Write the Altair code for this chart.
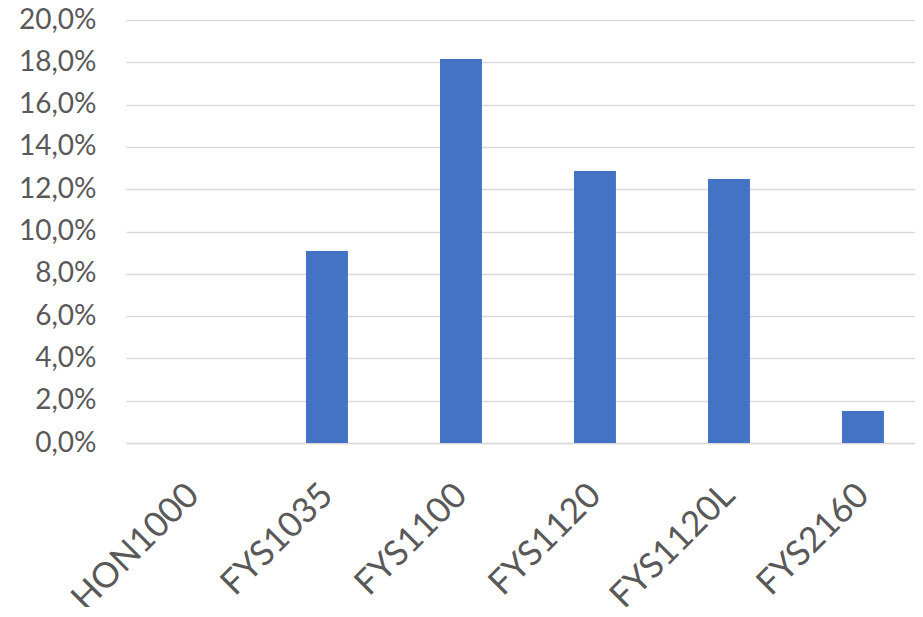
import altair as alt
import pandas as pd

categories = ["HON1000", "FYS1035", "FYS1100", "FYS1120", "FYS1120L", "FYS2160"]
values = [0.0, 0.0908, 0.1816, 0.1286, 0.1248, 0.0151]

df = pd.DataFrame({"cat": categories, "val": values})

FONT = "Lato"
LABEL = "#595959"

chart = alt.Chart(df).mark_bar(color="#4472C4").encode(
    x=alt.X("cat:N", sort=categories, title=None,
            scale=alt.Scale(paddingInner=0.687, paddingOuter=0.2875, align=0.597),
            axis=alt.Axis(labelAngle=-45, labelAlign="right", labelBaseline="middle",
                          labelPadding=46, labelOffset=0, ticks=False,
                          labelOverlap=False, labelBound=False, labelFlush=False,
                          domainColor="#D9D9D9", domainWidth=1.5,
                          labelFont=FONT, labelFontSize=35, labelColor=LABEL)),
    y=alt.Y("val:Q", title=None,
            scale=alt.Scale(domain=[0, 0.2], nice=False),
            axis=alt.Axis(values=[i / 50 for i in range(11)],
                          labelExpr="replace(format(datum.value, '.1%'), '.', ',')",
                          ticks=False, domain=False, gridColor="#D9D9D9", gridWidth=1.5,
                          labelPadding=30, labelFont=FONT, labelFontSize=28,
                          labelColor=LABEL)),
).properties(
    width=789, height=423,
    autosize=alt.AutoSizeParams(type="none"),
    padding={"left": 118, "top": 12, "right": 0, "bottom": 164},
).configure_view(stroke=None)

chart.save("out.html", embed_options={"renderer": "svg", "actions": False})
